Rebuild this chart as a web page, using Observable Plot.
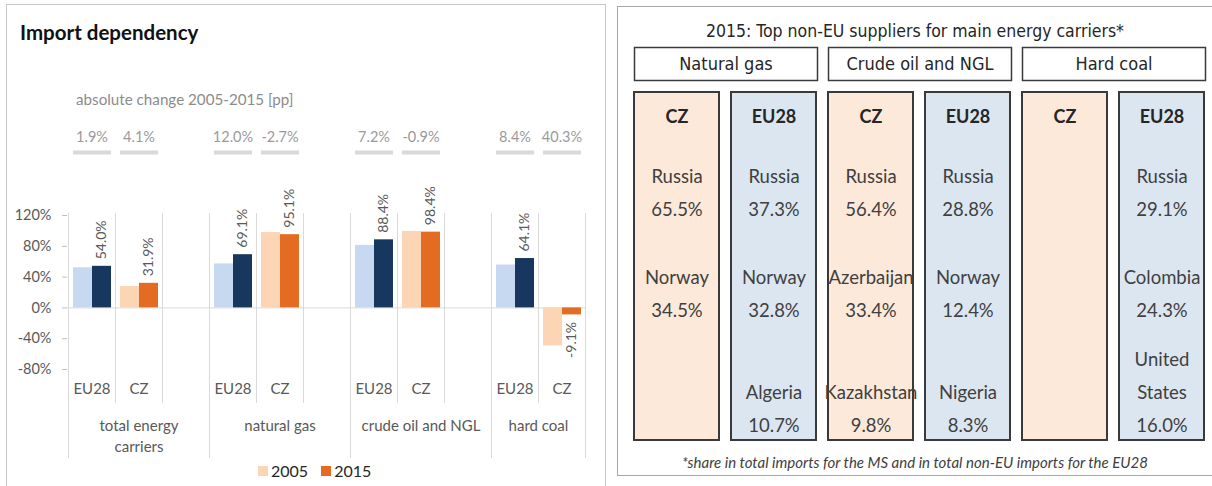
<!DOCTYPE html>
<html><head><meta charset="utf-8">
<script src="https://cdn.jsdelivr.net/npm/d3@7"></script>
<script src="https://cdn.jsdelivr.net/npm/@observablehq/plot@0.6"></script>
<style>
body{margin:0;background:#fff;}
#wrap{position:relative;width:1212px;height:486px;overflow:hidden;font-family:Lato,"Open Sans",sans-serif;}
.abs{position:absolute;}
#lp{left:6px;top:4px;width:600px;height:520px;border:1px solid #c8c8c8;box-sizing:border-box;}
#rp{left:617px;top:6px;width:620px;height:470px;border:1px solid #a6a6a6;box-sizing:border-box;}
#title{left:20px;top:20px;font-weight:700;font-size:20.5px;color:#111;white-space:nowrap;}
#sub{left:76px;top:90px;font-size:15.2px;color:#8c8c8c;white-space:nowrap;}
#legend{left:258px;top:461px;font-size:16px;color:#262626;display:flex;align-items:center;white-space:nowrap;}
#legend .sw{display:inline-block;width:10px;height:10px;margin-right:3px;}
#rtitle{left:617px;width:596px;top:21px;text-align:center;font-family:"Liberation Sans Narrow","Arial Narrow","DejaVu Sans Condensed",sans-serif;font-size:17.5px;color:#262626;white-space:nowrap;}
#foot{left:617px;width:596px;top:453px;text-align:center;font-style:italic;font-size:15px;color:#404040;white-space:nowrap;}
svg{position:absolute;top:0;}
</style></head>
<body><div id="wrap">
<div id="lp" class="abs"></div>
<div id="rp" class="abs"></div>
<div id="title" class="abs">Import dependency</div>
<div id="sub" class="abs">absolute change 2005-2015 [pp]</div>
<div id="legend" class="abs"></div>
<div id="rtitle" class="abs">2015: Top non-EU suppliers for main energy carriers*</div>
<div id="foot" class="abs">*share in total imports for the MS and in total non-EU imports for the EU28</div>
</div>
<script>
// ---------- Left chart data ----------
const groups = ["total energy carriers", "natural gas", "crude oil and NGL", "hard coal"];
const groupLabels = ["total energy\ncarriers", "natural gas", "crude oil and NGL", "hard coal"];
const countries = ["EU28", "CZ"];
const years = ["2005", "2015"];
const eu28_2005 = [52.1, 57.1, 81.2, 55.7];
const eu28_2015 = [54.0, 69.1, 88.4, 64.1];
const cz_2005 = [27.8, 97.8, 99.3, -49.4];
const cz_2015 = [31.9, 95.1, 98.4, -9.1];
const eu28_change = [1.9, 12.0, 7.2, 8.4];
const cz_change = [4.1, -2.7, -0.9, 40.3];
const yTicks = [-80, -40, 0, 40, 80, 120];

// ---------- Right panel data ----------
const carriersR = ["Natural gas", "Crude oil and NGL", "Hard coal"];
const colCountries = ["CZ", "EU28"];
const supCarrier = ["Natural gas","Natural gas","Natural gas","Natural gas","Natural gas",
  "Crude oil and NGL","Crude oil and NGL","Crude oil and NGL","Crude oil and NGL","Crude oil and NGL","Crude oil and NGL",
  "Hard coal","Hard coal","Hard coal"];
const supCountry = ["CZ","CZ","EU28","EU28","EU28","CZ","CZ","CZ","EU28","EU28","EU28","EU28","EU28","EU28"];
const supRank = [1,2,1,2,3,1,2,3,1,2,3,1,2,3];
const supName = ["Russia","Norway","Russia","Norway","Algeria","Russia","Azerbaijan","Kazakhstan","Russia","Norway","Nigeria","Russia","Colombia","United States"];
const supShare = [65.5,34.5,37.3,32.8,10.7,56.4,33.4,9.8,28.8,12.4,8.3,29.1,24.3,16.0];

const FONT = "Lato, 'Open Sans', sans-serif";
const NARROW = "'Liberation Sans Narrow','Arial Narrow','DejaVu Sans Condensed',sans-serif";
const colorDomain = ["EU28 2005", "EU28 2015", "CZ 2005", "CZ 2015"];
const colorRange = ["#c6d9f1", "#17375e", "#fcd5b5", "#e46c22"];

const rows = [];
groups.forEach((g, i) => {
  rows.push({g, c: "EU28", slot: g + "|EU28", v05: eu28_2005[i], v15: eu28_2015[i], ch: eu28_change[i]});
  rows.push({g, c: "CZ", slot: g + "|CZ", v05: cz_2005[i], v15: cz_2015[i], ch: cz_change[i]});
});
const slots = [];
groups.forEach((g, i) => { slots.push(g + "|EU28", g + "|CZ"); if (i < groups.length - 1) slots.push(g + "|"); });

const W = 607, H = 486, mL = 67, mR = 22, mT = 215, mB = 117;
const bw = (W - mL - mR) / slots.length;
const fmt = v => v.toFixed(1) + "%";
const grid = "#d9d9d9";
const txt = "#595959";

const left = Plot.plot({
  width: W, height: H, marginLeft: mL, marginRight: mR, marginTop: mT, marginBottom: mB,
  style: {background: "none", fontFamily: FONT, overflow: "visible"},
  x: {domain: slots, padding: 0, axis: null},
  y: {domain: [yTicks[0], yTicks[yTicks.length - 1]], axis: null},
  color: {domain: colorDomain, range: colorRange},
  marks: [
    Plot.ruleY([0], {stroke: grid}),
    Plot.ruleX(slots.filter(s => !s.endsWith("|EU28")), {x: d => d, dx: -bw / 2, insetTop: -2, insetBottom: -34, stroke: grid}),
    Plot.ruleX(slots.filter(s => s.endsWith("|EU28")), {x: d => d, dx: -bw / 2, insetTop: -2, insetBottom: -89, stroke: grid}),
    Plot.ruleX(slots.slice(-1), {x: d => d, dx: bw / 2, insetTop: -2, insetBottom: -89, stroke: grid}),
    Plot.axisY({ticks: yTicks, tickFormat: d => d + "%", tickSize: 5, tickPadding: 11, fontSize: 14.5, stroke: "#bfbfbf", fill: txt, label: null}),
    Plot.barY(rows, {x: "slot", y: "v05", fill: d => d.c + " " + years[0], insetLeft: 5, insetRight: 23}),
    Plot.barY(rows, {x: "slot", y: "v15", fill: d => d.c + " " + years[1], insetLeft: 24, insetRight: 4}),
    Plot.text(rows.filter(d => d.v15 >= 0), {x: "slot", y: "v15", text: d => fmt(d.v15), rotate: -90, textAnchor: "start", dx: 10, dy: -7, fontSize: 14, fill: txt}),
    Plot.text(rows.filter(d => d.v15 < 0), {x: "slot", y: "v15", text: d => fmt(d.v15), rotate: -90, textAnchor: "end", dx: 10, dy: 7, fontSize: 14, fill: txt}),
    Plot.text(rows, {x: "slot", text: d => fmt(d.ch), frameAnchor: "top", dy: -84, fontSize: 14.5, fill: "#9a9a9a"}),
    Plot.tickY(rows, {x: "slot", y: () => yTicks[yTicks.length - 1], dy: -63, insetLeft: 5, insetRight: 4, stroke: grid, strokeWidth: 4}),
    Plot.text(slots, {x: d => d, text: d => d.split("|")[1], frameAnchor: "bottom", dy: 24, fontSize: 15, fill: txt}),
    Plot.text(groups.slice(0, 3), {x: d => d + "|CZ", text: (d, i) => groupLabels[i], frameAnchor: "bottom", lineAnchor: "top", dy: 47, lineHeight: 1.4, fontSize: 15, fill: txt}),
    Plot.text(groups.slice(3), {x: d => d + "|CZ", dx: -bw / 2, text: (d, i) => groupLabels[3 + i], frameAnchor: "bottom", lineAnchor: "top", dy: 47, lineHeight: 1.4, fontSize: 15, fill: txt})
  ]
});
left.style.left = "0px";
document.getElementById("wrap").appendChild(left);

// legend
const lg = document.getElementById("legend");
years.forEach((y, i) => {
  const sw = document.createElement("span");
  sw.className = "sw";
  sw.style.background = colorRange[colorDomain.indexOf("CZ " + y)];
  if (i > 0) sw.style.marginLeft = "13px";
  lg.appendChild(sw);
  lg.appendChild(document.createTextNode(y));
});

// ---------- Right panel ----------
const cols = [];
carriersR.forEach(c => colCountries.forEach(k => cols.push({carrier: c, country: k})));
const sup = supName.map((n, i) => ({carrier: supCarrier[i], country: supCountry[i], rank: supRank[i], name: n, share: supShare[i]}));
const supText = d => d.name + "\n" + d.share.toFixed(1) + "%";
const RW = 595;
const fxOpt = {domain: carriersR, paddingInner: 0.055, paddingOuter: 0, axis: null};

const body = Plot.plot({
  width: RW, height: 486, marginLeft: 16, marginRight: 6, marginTop: 92, marginBottom: 46,
  style: {background: "none", fontFamily: FONT, overflow: "visible"},
  fx: fxOpt,
  x: {domain: colCountries, paddingInner: 0.12, paddingOuter: 0, axis: null},
  y: {type: "point", domain: [1, 2], range: [187.5, 288.5], padding: 0, axis: null},
  color: {domain: colCountries, range: ["#fde9d9", "#dce6f1"]},
  marks: [
    Plot.cell(cols, {fx: "carrier", x: "country", fill: "country", stroke: "#3a3a3a", strokeWidth: 2}),
    Plot.text(cols, {fx: "carrier", x: "country", text: "country", frameAnchor: "top", dy: 18, fontWeight: "bold", fontSize: 18, fill: "#262626"}),
    Plot.text(sup.filter(d => d.rank < 3), {fx: "carrier", x: "country", y: "rank", text: supText, lineHeight: 1.78, fontSize: 18.5, fill: "#404040"}),
    Plot.text(sup.filter(d => d.rank === 3), {fx: "carrier", x: "country", text: supText, frameAnchor: "bottom", lineAnchor: "bottom", dy: -8.5, lineWidth: 4.5, lineHeight: 1.78, fontSize: 18.5, fill: "#404040"})
  ]
});
body.style.left = "617px";
document.getElementById("wrap").appendChild(body);

const header = Plot.plot({
  width: RW, height: 486, marginLeft: 16, marginRight: 6, marginTop: 47, marginBottom: 406,
  style: {background: "none", fontFamily: NARROW, overflow: "visible"},
  fx: fxOpt,
  marks: [
    Plot.frame({fill: "white", stroke: "#3a3a3a", strokeWidth: 1.5}),
    Plot.text(carriersR, {fx: d => d, text: d => d, frameAnchor: "middle", fontSize: 18, fill: "#262626"})
  ]
});
header.style.left = "617px";
document.getElementById("wrap").appendChild(header);
</script>
</body></html>
